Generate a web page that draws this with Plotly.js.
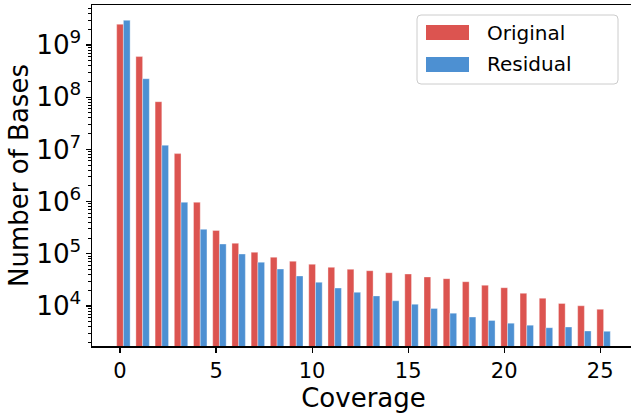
<!DOCTYPE html>
<html>
<head>
<meta charset="utf-8">
<script src="https://cdn.plot.ly/plotly-3.0.1.min.js"></script>
<style>
html,body{margin:0;padding:0;overflow:hidden;background:#fff;}
#chart{width:636px;height:415px;}
</style>
</head>
<body>
<div id="chart"></div>
<script>
const coverage = [0,1,2,3,4,5,6,7,8,9,10,11,12,13,14,15,16,17,18,19,20,21,22,23,24,25];
const original = [2.5e9,6.0e8,8.2e7,8.3e6,9.7e5,2.8e5,1.59e5,1.07e5,8.6e4,7.2e4,6.3e4,5.5e4,5.05e4,4.74e4,4.34e4,4.1e4,3.6e4,3.34e4,2.92e4,2.5e4,2.24e4,1.75e4,1.41e4,1.12e4,1.01e4,8.65e3];
const residual = [2.97e9,2.26e8,1.2e7,9.7e5,2.94e5,1.54e5,9.9e4,6.9e4,5.1e4,3.76e4,2.85e4,2.21e4,1.83e4,1.56e4,1.26e4,1.08e4,9.0e3,7.3e3,6.15e3,5.3e3,4.7e3,4.3e3,3.84e3,3.96e3,3.32e3,3.27e3];
const seriesNames = ['Original','Residual'];
const seriesColors = ['#dc5450','#4d90d2'];
const xTicks = [0,5,10,15,20,25];

const barW = 0.35;
const traces = [
  {type:'bar', name:seriesNames[0], x:coverage, y:original, width:barW, offset:-barW/2,
   marker:{color:seriesColors[0], line:{color:'rgba(255,255,255,0.35)', width:1}}},
  {type:'bar', name:seriesNames[1], x:coverage, y:residual, width:barW, offset:barW/2,
   marker:{color:seriesColors[1], line:{color:'rgba(255,255,255,0.35)', width:1}}}
];

// plot area in pixels: left 92, width 543, top 5, height 341
const L = 92, W = 543, T = 5, H = 341;
const px = v => (v - L) / W;
const py = v => (T + H - v) / H;

function roundRect(x0, y0, x1, y1, r){
  const X = v => px(v), Y = v => py(v);
  return 'M' + X(x0 + r) + ',' + Y(y0) +
    ' L' + X(x1 - r) + ',' + Y(y0) +
    ' Q' + X(x1) + ',' + Y(y0) + ' ' + X(x1) + ',' + Y(y0 + r) +
    ' L' + X(x1) + ',' + Y(y1 - r) +
    ' Q' + X(x1) + ',' + Y(y1) + ' ' + X(x1 - r) + ',' + Y(y1) +
    ' L' + X(x0 + r) + ',' + Y(y1) +
    ' Q' + X(x0) + ',' + Y(y1) + ' ' + X(x0) + ',' + Y(y1 - r) +
    ' L' + X(x0) + ',' + Y(y0 + r) +
    ' Q' + X(x0) + ',' + Y(y0) + ' ' + X(x0 + r) + ',' + Y(y0) + ' Z';
}
// legend drawn as shapes + text (matplotlib-like)
const shapes = [
  {type:'path', xref:'paper', yref:'paper', layer:'above',
   path:roundRect(417, 15, 618, 84, 4),
   fillcolor:'rgba(255,255,255,0.8)', line:{color:'#cccccc', width:1}},
  {type:'rect', xref:'paper', yref:'paper', layer:'above',
   x0:px(426), x1:px(469), y0:py(25), y1:py(40), fillcolor:seriesColors[0], line:{width:0}},
  {type:'rect', xref:'paper', yref:'paper', layer:'above',
   x0:px(426), x1:px(469), y0:py(57), y1:py(72), fillcolor:seriesColors[1], line:{width:0}}
];
const annotations = [
  {xref:'paper', yref:'paper', x:px(485), y:py(32.5), xanchor:'left', yanchor:'middle',
   text:seriesNames[0], showarrow:false, font:{family:'DejaVu Sans', size:20, color:'#000'}},
  {xref:'paper', yref:'paper', x:px(485), y:py(64), xanchor:'left', yanchor:'middle',
   text:seriesNames[1], showarrow:false, font:{family:'DejaVu Sans', size:20, color:'#000'}}
];

const layout = {
  width:636, height:415,
  margin:{l:92, r:1, t:5, b:69},
  paper_bgcolor:'#fff', plot_bgcolor:'#fff',
  barmode:'overlay',
  showlegend:false,
  font:{family:'DejaVu Sans', color:'#000'},
  shapes:shapes,
  annotations:annotations,
  xaxis:{
    range:[-1.46, 26.81], tickvals:xTicks, ticktext:xTicks.map(String),
    ticks:'outside', ticklen:5, tickwidth:1.2, tickcolor:'#000',
    showline:true, linecolor:'#000', linewidth:1.5, mirror:true,
    showgrid:false, zeroline:false,
    tickfont:{family:'DejaVu Sans', size:21, color:'#000'},
    title:{text:'Coverage', font:{family:'DejaVu Sans', size:26, color:'#000'}, standoff:5}
  },
  yaxis:{
    type:'log', range:[3.234, 9.766], tick0:0, dtick:1,
    exponentformat:'power', showexponent:'all',
    ticks:'outside', ticklen:5, tickwidth:1.2, tickcolor:'#000',
    minor:{ticks:'outside', ticklen:2.5, tickwidth:1, tickcolor:'#000', dtick:'D1', showgrid:false},
    showline:true, linecolor:'#000', linewidth:1.5, mirror:true,
    showgrid:false, zeroline:false,
    tickfont:{family:'DejaVu Sans', size:21, color:'#000'},
    title:{text:'Number of Bases', font:{family:'DejaVu Sans', size:26, color:'#000'}, standoff:0}
  }
};

Plotly.newPlot('chart', traces, layout, {displayModeBar:false, staticPlot:true});
</script>
</body>
</html>
